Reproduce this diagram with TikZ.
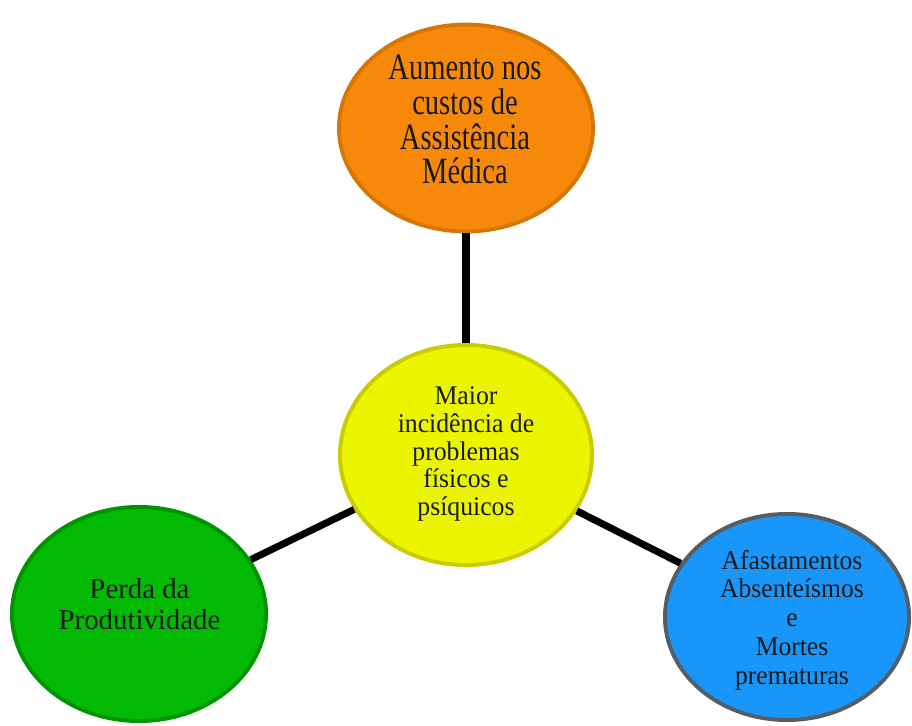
\documentclass[tikz,border=0pt]{standalone}
\usepackage{fontspec}
\usepackage{graphicx}
\setmainfont{Liberation Serif}
\usetikzlibrary{shapes.geometric}
\definecolor{orangefill}{RGB}{247,137,10}
\definecolor{orangeline}{RGB}{214,118,4}
\definecolor{yellowfill}{RGB}{236,245,0}
\definecolor{yellowline}{RGB}{200,204,0}
\definecolor{greenfill}{RGB}{2,186,4}
\definecolor{greenline}{RGB}{0,148,0}
\definecolor{bluefill}{RGB}{24,150,250}
\definecolor{blueline}{RGB}{84,94,100}
\def\drawlink{\draw[line width=5pt, color=black]}
% lines stacked and centred: #1 vertical stretch, #2 font size, #3 line skip
\newcommand\tallstack[4]{\scalebox{1}[#1]{\fontsize{#2}{#3}\selectfont
  \begin{tabular}{@{}c@{}}#4\end{tabular}}}
\tikzset{bubble/.style={ellipse, line width=2.8pt, inner sep=0pt},
  bubbletext/.style={inner sep=0pt, text=black!90}}

\begin{document}
\begin{tikzpicture}[x=0.025cm,y=0.025cm]
\useasboundingbox (0,0) rectangle (912,725);

% ---------- the four bubbles
\node[bubble, draw=yellowline, fill=yellowfill, minimum width=6.3cm, minimum height=5.5cm]
  (mid) at (466,270) {};
\node[bubble, draw=orangeline, fill=orangefill, minimum width=6.35cm, minimum height=5.17cm]
  (custos) at (466,597) {};
\node[bubble, draw=greenline, fill=greenfill, minimum width=6.35cm, minimum height=5.35cm]
  (perda) at (139,111) {};
\node[bubble, draw=blueline, fill=bluefill, minimum width=6.1cm, minimum height=5.15cm]
  (afast) at (787,108) {};

% ---------- their texts
\node[bubbletext] (midtext) at (466,270.5)
  {\tallstack{1.05}{18.3}{18.9}{Maior\\incidência de\\problemas\\físicos e\\psíquicos}};
\node[bubbletext] (custostext) at (465,601)
  {\tallstack{1.3}{20.3}{16.4}{Aumento nos\\custos de\\Assistência\\Médica}};
\node[bubbletext] (perdatext) at (139.5,117.4)
  {\tallstack{1}{20.5}{22.7}{Perda da\\Produtividade}};
\node[bubbletext] (afasttext) at (792,104)
  {\tallstack{1.06}{18.2}{19.3}{Afastamentos\\Absenteísmos\\e\\Mortes\\prematuras}};

% ---------- spokes from the middle
\drawlink (mid) -- (custos);
\drawlink (mid) -- (perda);
\drawlink (mid) -- (afast);
\end{tikzpicture}
\end{document}
